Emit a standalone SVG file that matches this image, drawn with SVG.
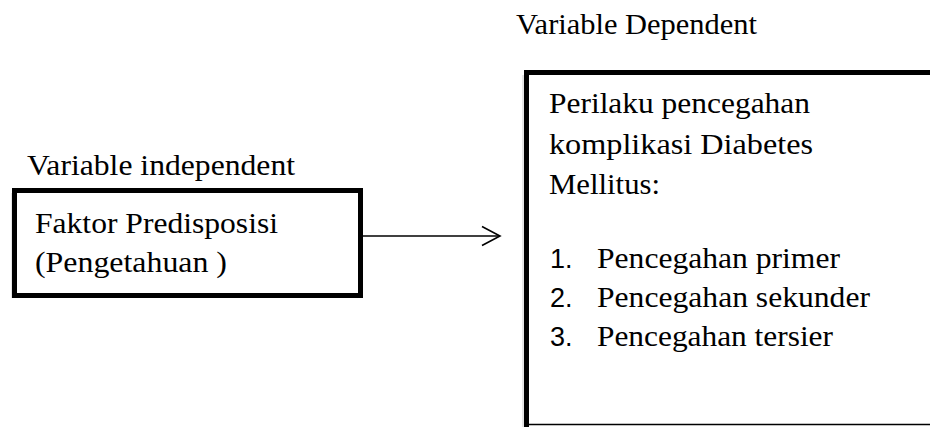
<svg xmlns="http://www.w3.org/2000/svg" width="930" height="427" viewBox="0 0 930 427">
<style>
.t{font-family:"Liberation Serif","Times New Roman",serif;font-size:29px;fill:#000}
.n{font-family:"Liberation Sans",Arial,sans-serif;font-size:27px;fill:#000}
.box{fill:#fff;stroke:#000;stroke-width:5}
.conn{stroke:#000;stroke-width:1.6;fill:none}
</style>
<rect width="930" height="427" fill="#fff"/>
<g id="label-dependent"><text class="t" x="516" y="34" textLength="241" lengthAdjust="spacingAndGlyphs">Variable Dependent</text></g>
<g id="label-independent"><text class="t" x="27" y="175" textLength="268" lengthAdjust="spacingAndGlyphs">Variable independent</text></g>
<g id="node-independent">
<rect x="11" y="193" width="346" height="105" fill="#ccc" opacity="0.5"/>
<rect class="box" x="14.5" y="190.5" width="346" height="105"/>
<text class="t" x="35" y="233" textLength="243" lengthAdjust="spacingAndGlyphs">Faktor Predisposisi</text>
<text class="t" x="35" y="272" textLength="192" lengthAdjust="spacingAndGlyphs">(Pengetahuan )</text>
</g>
<g id="node-dependent">
<rect x="522" y="75" width="420" height="360" fill="#ccc" opacity="0.5"/>
<rect class="box" x="526.5" y="72.5" width="420" height="380"/>
<line x1="529" y1="424.5" x2="930" y2="424.5" stroke="#000" stroke-width="1.5"/>
<text class="t" x="549" y="113" textLength="261" lengthAdjust="spacingAndGlyphs">Perilaku pencegahan</text>
<text class="t" x="549" y="154" textLength="264" lengthAdjust="spacingAndGlyphs">komplikasi  Diabetes</text>
<text class="t" x="549" y="194" textLength="111" lengthAdjust="spacingAndGlyphs">Mellitus:</text>
<text class="n" x="550" y="268">1.</text>
<text class="t" x="597" y="268" textLength="243" lengthAdjust="spacingAndGlyphs">Pencegahan primer</text>
<text class="n" x="550" y="307">2.</text>
<text class="t" x="597" y="307" textLength="273" lengthAdjust="spacingAndGlyphs">Pencegahan sekunder</text>
<text class="n" x="550" y="346">3.</text>
<text class="t" x="597" y="346" textLength="236" lengthAdjust="spacingAndGlyphs">Pencegahan tersier</text>
</g>
<g id="connectors">
<line class="conn" x1="363" y1="236" x2="499" y2="236"/>
<polyline class="conn" points="482,226.5 500,236 482,245.5"/>
</g>
</svg>
